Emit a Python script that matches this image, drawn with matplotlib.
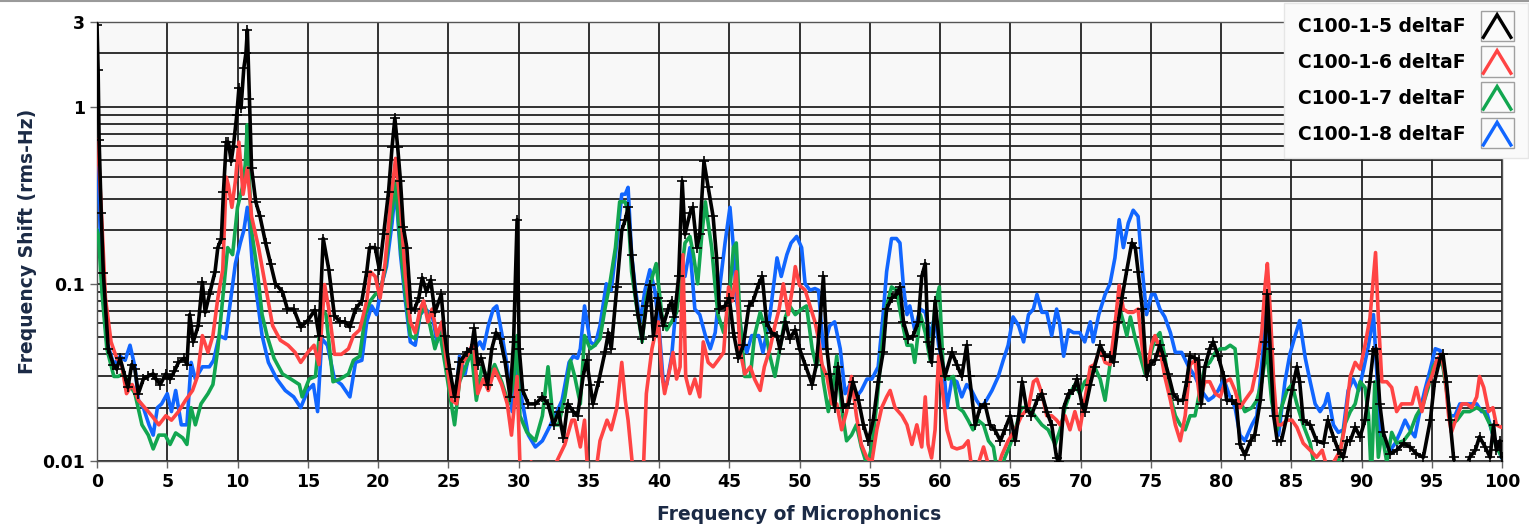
import numpy as np
import matplotlib
matplotlib.use('Agg')
import matplotlib.pyplot as plt
from matplotlib.lines import Line2D
from matplotlib.patches import Rectangle
from matplotlib.legend_handler import HandlerBase
from matplotlib.ticker import FixedLocator, NullFormatter

# --- data: (frequency, rms shift) per cavity
c5 = [(0.0, 2.9), (0.08, 1.6), (0.15, 0.65), (0.3, 0.25), (0.45, 0.115), (0.8, 0.043), (1.16, 0.035), (1.4, 0.033),
      (1.64, 0.038), (1.99, 0.030), (2.2, 0.026), (2.47, 0.035), (2.7, 0.033), (2.94, 0.024), (3.3, 0.029), (3.6, 0.03),
      (4.0, 0.031), (4.2, 0.029), (4.5, 0.027), (4.9, 0.031), (5.2, 0.029), (5.5, 0.032), (5.8, 0.036), (6.2, 0.038),
      (6.4, 0.035), (6.6, 0.067), (6.85, 0.047), (7.2, 0.058), (7.5, 0.102), (7.7, 0.069), (8.0, 0.087), (8.4, 0.117),
      (8.6, 0.16), (8.85, 0.18), (9.0, 0.33), (9.2, 0.63), (9.35, 0.63), (9.55, 0.49), (9.7, 0.59), (9.95, 0.9),
      (10.1, 1.27), (10.25, 0.98), (10.45, 1.65), (10.6, 2.0), (10.7, 2.7), (10.85, 1.1), (11.0, 0.45), (11.3, 0.29),
      (11.6, 0.24), (12.0, 0.17), (12.35, 0.13), (12.7, 0.10), (13.2, 0.09), (13.55, 0.072), (14.0, 0.072),
      (14.5, 0.057), (15.0, 0.062), (15.5, 0.071), (15.8, 0.051), (16.1, 0.18), (16.5, 0.12), (16.9, 0.066),
      (17.3, 0.061), (17.65, 0.061), (18.0, 0.057), (18.4, 0.072), (18.85, 0.080), (19.2, 0.117), (19.4, 0.16),
      (19.8, 0.16), (20.1, 0.12), (20.4, 0.19), (20.75, 0.33), (21.0, 0.59), (21.2, 0.86), (21.4, 0.59), (21.6, 0.38),
      (21.8, 0.21), (22.05, 0.16), (22.35, 0.072), (22.6, 0.072), (22.9, 0.083), (23.15, 0.108), (23.45, 0.09),
      (23.75, 0.105), (24.05, 0.069), (24.5, 0.087), (24.75, 0.051), (25.1, 0.033), (25.45, 0.023), (25.8, 0.036),
      (26.3, 0.041), (26.65, 0.043), (26.85, 0.056), (27.1, 0.035), (27.35, 0.038), (27.8, 0.027), (28.1, 0.043),
      (28.4, 0.053), (28.7, 0.049), (29.05, 0.036), (29.4, 0.023), (29.65, 0.047), (29.9, 0.23), (30.05, 0.043),
      (30.3, 0.025), (30.7, 0.021), (31.2, 0.021), (31.7, 0.023), (32.1, 0.021), (32.5, 0.016), (32.85, 0.019),
      (33.2, 0.0135), (33.5, 0.021), (33.9, 0.019), (34.2, 0.018), (34.6, 0.030), (34.85, 0.037), (35.1, 0.027),
      (35.3, 0.021), (35.7, 0.028), (36.15, 0.041), (36.4, 0.053), (36.6, 0.043), (37.0, 0.096), (37.35, 0.20),
      (37.6, 0.23), (37.8, 0.27), (38.05, 0.146), (38.3, 0.09), (38.5, 0.067), (38.8, 0.049), (39.1, 0.075),
      (39.35, 0.098), (39.6, 0.051), (39.95, 0.083), (40.3, 0.058), (40.65, 0.072), (40.9, 0.08), (41.1, 0.065),
      (41.4, 0.11), (41.65, 0.38), (41.85, 0.19), (42.2, 0.25), (42.4, 0.27), (42.7, 0.16), (42.9, 0.19), (43.2, 0.49),
      (43.5, 0.35), (43.85, 0.24), (44.1, 0.14), (44.3, 0.072), (44.7, 0.075), (45.0, 0.083), (45.3, 0.053),
      (45.65, 0.038), (46.0, 0.045), (46.4, 0.075), (46.7, 0.08), (47.1, 0.10), (47.35, 0.11), (47.65, 0.061),
      (48.0, 0.053), (48.4, 0.051), (48.6, 0.043), (49.0, 0.061), (49.3, 0.049), (49.7, 0.055), (50.0, 0.043),
      (50.4, 0.035), (50.9, 0.027), (51.2, 0.035), (51.45, 0.06), (51.7, 0.11), (51.95, 0.043), (52.15, 0.031),
      (52.5, 0.020), (52.75, 0.034), (53.1, 0.020), (53.5, 0.021), (53.8, 0.028), (54.2, 0.022), (54.55, 0.016),
      (54.9, 0.013), (55.25, 0.017), (55.6, 0.028), (55.95, 0.041), (56.2, 0.072), (56.55, 0.083), (56.9, 0.087),
      (57.15, 0.096), (57.4, 0.061), (57.75, 0.049), (58.1, 0.051), (58.45, 0.061), (58.7, 0.11), (58.95, 0.13),
      (59.15, 0.047), (59.4, 0.036), (59.65, 0.08), (60.0, 0.043), (60.35, 0.030), (60.85, 0.041), (61.2, 0.035),
      (61.55, 0.030), (61.9, 0.045), (62.1, 0.030), (62.5, 0.016), (62.85, 0.020), (63.2, 0.021), (63.55, 0.016),
      (63.9, 0.015), (64.3, 0.013), (64.6, 0.015), (65.0, 0.018), (65.35, 0.013), (65.6, 0.018), (65.85, 0.028),
      (66.15, 0.020), (66.5, 0.018), (66.9, 0.022), (67.25, 0.024), (67.6, 0.019), (67.95, 0.016), (68.3, 0.0104),
      (68.5, 0.0099), (68.8, 0.020), (69.15, 0.024), (69.5, 0.025), (69.75, 0.029), (70.1, 0.021), (70.3, 0.019),
      (70.7, 0.027), (71.0, 0.034), (71.4, 0.045), (71.75, 0.039), (72.1, 0.039), (72.35, 0.036), (72.7, 0.061),
      (72.95, 0.083), (73.3, 0.12), (73.65, 0.17), (73.9, 0.16), (74.1, 0.117), (74.4, 0.072), (74.7, 0.030),
      (74.95, 0.035), (75.3, 0.037), (75.65, 0.045), (75.9, 0.039), (76.25, 0.031), (76.6, 0.024), (76.95, 0.022),
      (77.3, 0.022), (77.55, 0.028), (77.8, 0.039), (78.15, 0.038), (78.4, 0.037), (78.6, 0.021), (78.85, 0.034),
      (79.2, 0.043), (79.45, 0.047), (79.8, 0.039), (80.2, 0.030), (80.4, 0.022), (80.75, 0.022), (81.1, 0.021),
      (81.35, 0.0124), (81.7, 0.0108), (82.1, 0.013), (82.4, 0.014), (82.8, 0.022), (83.15, 0.047), (83.3, 0.087),
      (83.5, 0.043), (83.75, 0.018), (84.0, 0.013), (84.3, 0.013), (84.7, 0.018), (85.05, 0.025), (85.4, 0.034),
      (85.6, 0.028), (85.85, 0.017), (86.35, 0.016), (86.8, 0.013), (87.3, 0.0126), (87.6, 0.017), (88.0, 0.0137),
      (88.35, 0.0115), (88.7, 0.0105), (88.95, 0.013), (89.2, 0.013), (89.55, 0.0155), (89.9, 0.0137), (90.25, 0.017),
      (90.6, 0.028), (90.85, 0.042), (91.05, 0.043), (91.3, 0.021), (91.55, 0.0145), (92.05, 0.011), (92.5, 0.0115),
      (93.0, 0.0126), (93.45, 0.012), (93.9, 0.011), (94.4, 0.0105), (94.9, 0.017), (95.2, 0.028), (95.6, 0.038),
      (95.8, 0.040), (96.05, 0.028), (96.3, 0.017), (96.55, 0.0105), (96.8, 0.008), (97.25, 0.008), (97.7, 0.0105),
      (98.1, 0.0115), (98.4, 0.0137), (98.8, 0.012), (99.15, 0.0105), (99.4, 0.016), (99.6, 0.0115), (99.85, 0.013),
      (100.0, 0.0105)]

c6 = [(0.0, 0.65), (0.1, 0.55), (0.35, 0.22), (0.6, 0.083), (1.0, 0.047), (1.4, 0.038), (1.75, 0.035), (2.1, 0.024),
      (2.5, 0.027), (2.95, 0.022), (3.4, 0.020), (3.9, 0.018), (4.4, 0.016), (4.9, 0.018), (5.3, 0.017), (5.8, 0.019),
      (6.3, 0.022), (6.8, 0.025), (7.15, 0.030), (7.5, 0.051), (7.9, 0.041), (8.25, 0.051), (8.6, 0.083), (8.95, 0.12),
      (9.2, 0.40), (9.35, 0.36), (9.6, 0.27), (9.85, 0.38), (10.1, 0.63), (10.4, 0.32), (10.7, 0.45), (11.0, 0.24),
      (11.5, 0.16), (12.0, 0.096), (12.5, 0.058), (13.05, 0.048), (13.6, 0.045), (14.1, 0.041), (14.5, 0.036),
      (15.0, 0.041), (15.45, 0.045), (15.8, 0.035), (16.2, 0.099), (16.5, 0.072), (16.9, 0.040), (17.4, 0.040),
      (17.9, 0.043), (18.25, 0.051), (18.7, 0.055), (19.2, 0.080), (19.45, 0.117), (19.8, 0.11), (20.15, 0.083),
      (20.5, 0.13), (20.9, 0.29), (21.25, 0.51), (21.6, 0.27), (21.95, 0.11), (22.3, 0.061), (22.65, 0.053),
      (23.0, 0.072), (23.25, 0.08), (23.55, 0.061), (23.85, 0.072), (24.2, 0.051), (24.55, 0.061), (24.9, 0.035),
      (25.25, 0.022), (25.6, 0.021), (25.95, 0.035), (26.4, 0.040), (26.8, 0.047), (27.1, 0.024), (27.5, 0.029),
      (27.85, 0.025), (28.3, 0.033), (28.8, 0.027), (29.2, 0.021), (29.5, 0.014), (29.9, 0.030), (30.1, 0.0098),
      (30.6, 0.008), (30.9, 0.0099), (31.2, 0.008), (31.6, 0.008), (32.1, 0.0098), (32.6, 0.0095), (33.3, 0.0124),
      (33.8, 0.017), (34.0, 0.017), (34.4, 0.012), (34.7, 0.017), (34.95, 0.008), (35.45, 0.008), (35.8, 0.013),
      (36.3, 0.017), (36.6, 0.015), (37.0, 0.020), (37.35, 0.036), (37.6, 0.022), (37.8, 0.017), (38.2, 0.008),
      (38.65, 0.008), (38.9, 0.0095), (39.1, 0.024), (39.5, 0.043), (39.7, 0.051), (39.95, 0.061), (40.2, 0.031),
      (40.4, 0.024), (40.8, 0.034), (41.0, 0.041), (41.25, 0.029), (41.5, 0.034), (41.7, 0.146), (41.9, 0.030),
      (42.2, 0.024), (42.55, 0.029), (42.9, 0.023), (43.15, 0.047), (43.5, 0.036), (43.85, 0.034), (44.2, 0.037),
      (44.6, 0.041), (44.95, 0.096), (45.2, 0.08), (45.5, 0.117), (45.75, 0.043), (46.1, 0.031), (46.5, 0.034),
      (46.8, 0.029), (47.2, 0.025), (47.5, 0.034), (47.9, 0.043), (48.25, 0.058), (48.55, 0.072), (48.85, 0.10),
      (49.2, 0.067), (49.55, 0.10), (49.7, 0.125), (50.0, 0.098), (50.4, 0.092), (50.75, 0.075), (51.1, 0.061),
      (51.35, 0.049), (51.6, 0.035), (51.95, 0.030), (52.3, 0.021), (52.65, 0.021), (53.0, 0.015), (53.35, 0.019),
      (53.7, 0.030), (54.05, 0.018), (54.4, 0.0124), (54.8, 0.0104), (55.15, 0.0099), (55.5, 0.015), (55.85, 0.020),
      (56.2, 0.023), (56.45, 0.025), (56.8, 0.020), (57.3, 0.018), (57.65, 0.016), (58.0, 0.0124), (58.35, 0.016),
      (58.7, 0.012), (58.95, 0.023), (59.15, 0.0124), (59.4, 0.0104), (59.65, 0.015), (59.9, 0.039), (60.1, 0.028),
      (60.5, 0.015), (60.85, 0.012), (61.2, 0.0117), (61.65, 0.012), (62.0, 0.013), (62.35, 0.008), (62.7, 0.0095),
      (63.1, 0.012), (63.45, 0.0095), (63.9, 0.008), (64.4, 0.0108), (64.85, 0.013), (65.35, 0.015), (65.8, 0.018),
      (66.3, 0.020), (66.65, 0.028), (66.9, 0.029), (67.25, 0.024), (67.6, 0.018), (67.95, 0.018), (68.3, 0.017),
      (68.55, 0.016), (68.9, 0.018), (69.25, 0.015), (69.6, 0.019), (69.95, 0.015), (70.3, 0.022), (70.7, 0.034),
      (71.0, 0.035), (71.4, 0.043), (71.75, 0.036), (72.1, 0.035), (72.45, 0.058), (72.75, 0.098), (73.05, 0.072),
      (73.4, 0.069), (73.75, 0.069), (74.1, 0.072), (74.4, 0.043), (74.7, 0.031), (75.05, 0.045), (75.3, 0.051),
      (75.65, 0.043), (76.0, 0.030), (76.4, 0.022), (76.75, 0.016), (77.1, 0.013), (77.45, 0.018), (77.8, 0.035),
      (78.15, 0.037), (78.5, 0.022), (78.85, 0.028), (79.2, 0.028), (79.6, 0.024), (79.95, 0.023), (80.3, 0.028),
      (80.65, 0.029), (81.0, 0.025), (81.35, 0.020), (81.7, 0.022), (82.2, 0.025), (82.55, 0.034), (82.9, 0.053),
      (83.15, 0.10), (83.3, 0.13), (83.5, 0.072), (83.75, 0.028), (84.0, 0.016), (84.3, 0.016), (84.7, 0.017),
      (85.05, 0.017), (85.4, 0.0155), (85.85, 0.0126), (86.35, 0.0115), (86.8, 0.0105), (87.2, 0.0115), (87.5, 0.0095),
      (88.0, 0.0098), (88.5, 0.0115), (88.8, 0.0155), (89.2, 0.030), (89.55, 0.036), (89.9, 0.033), (90.25, 0.045),
      (90.6, 0.064), (90.85, 0.11), (91.0, 0.15), (91.2, 0.064), (91.45, 0.028), (91.8, 0.028), (92.15, 0.026),
      (92.5, 0.019), (92.85, 0.021), (93.2, 0.021), (93.6, 0.021), (93.9, 0.026), (94.3, 0.019), (94.65, 0.026),
      (95.0, 0.030), (95.35, 0.037), (95.7, 0.040), (95.95, 0.030), (96.2, 0.018), (96.4, 0.0145), (96.8, 0.018),
      (97.15, 0.021), (97.5, 0.021), (97.85, 0.020), (98.2, 0.023), (98.4, 0.030), (98.7, 0.026), (99.05, 0.019),
      (99.35, 0.020), (99.6, 0.016), (99.95, 0.0155), (100.0, 0.0155)]

c7 = [(0.0, 0.2), (0.1, 0.19), (0.35, 0.09), (0.7, 0.043), (1.2, 0.030), (1.5, 0.030), (1.9, 0.031), (2.2, 0.028),
      (2.7, 0.024), (3.2, 0.016), (3.65, 0.014), (4.0, 0.0117), (4.4, 0.014), (4.85, 0.014), (5.2, 0.0124),
      (5.6, 0.0144), (6.1, 0.0135), (6.4, 0.0124), (6.7, 0.020), (7.0, 0.016), (7.4, 0.021), (7.9, 0.024), (8.25, 0.027),
      (8.6, 0.043), (8.95, 0.083), (9.3, 0.16), (9.65, 0.146), (10.0, 0.27), (10.35, 0.35), (10.55, 0.47), (10.7, 0.79),
      (10.85, 0.38), (11.0, 0.20), (11.4, 0.12), (11.75, 0.067), (12.1, 0.051), (12.6, 0.038), (13.2, 0.031),
      (13.8, 0.029), (14.4, 0.027), (14.6, 0.023), (15.1, 0.029), (15.55, 0.030), (16.0, 0.072), (16.3, 0.067),
      (16.8, 0.028), (17.3, 0.029), (17.9, 0.031), (18.25, 0.037), (18.7, 0.039), (19.1, 0.067), (19.45, 0.08),
      (19.8, 0.087), (20.15, 0.09), (20.5, 0.12), (20.9, 0.22), (21.25, 0.38), (21.6, 0.16), (21.95, 0.087),
      (22.3, 0.051), (22.65, 0.049), (23.0, 0.067), (23.35, 0.075), (23.7, 0.058), (24.05, 0.043), (24.4, 0.053),
      (24.75, 0.036), (25.1, 0.024), (25.45, 0.016), (25.8, 0.028), (26.3, 0.035), (26.65, 0.041), (27.0, 0.022),
      (27.4, 0.034), (27.85, 0.029), (28.3, 0.035), (28.8, 0.028), (29.3, 0.021), (29.65, 0.028), (29.9, 0.051),
      (30.1, 0.018), (30.6, 0.0145), (31.2, 0.013), (31.7, 0.018), (32.1, 0.034), (32.5, 0.016), (32.85, 0.016),
      (33.3, 0.023), (33.7, 0.037), (34.0, 0.030), (34.4, 0.021), (34.7, 0.051), (35.1, 0.043), (35.45, 0.045),
      (35.8, 0.049), (36.15, 0.072), (36.5, 0.10), (36.9, 0.16), (37.2, 0.29), (37.6, 0.29), (37.8, 0.25),
      (38.05, 0.117), (38.4, 0.075), (38.8, 0.047), (39.1, 0.083), (39.5, 0.108), (39.8, 0.13), (40.2, 0.067),
      (40.55, 0.055), (40.9, 0.061), (41.25, 0.069), (41.5, 0.10), (41.85, 0.17), (42.2, 0.185), (42.45, 0.146),
      (42.75, 0.10), (43.05, 0.19), (43.3, 0.29), (43.5, 0.22), (43.75, 0.16), (44.0, 0.096), (44.2, 0.067),
      (44.6, 0.053), (44.95, 0.075), (45.3, 0.16), (45.5, 0.17), (45.75, 0.067), (46.1, 0.030), (46.5, 0.030),
      (46.8, 0.051), (47.2, 0.069), (47.5, 0.058), (47.9, 0.039), (48.25, 0.030), (48.6, 0.043), (49.0, 0.065),
      (49.3, 0.075), (49.7, 0.067), (50.15, 0.072), (50.5, 0.075), (50.9, 0.043), (51.2, 0.034), (51.45, 0.043),
      (51.7, 0.028), (52.05, 0.019), (52.4, 0.027), (52.65, 0.039), (53.0, 0.020), (53.35, 0.013), (53.7, 0.014),
      (54.05, 0.016), (54.4, 0.012), (54.8, 0.0095), (55.15, 0.012), (55.5, 0.021), (55.85, 0.043), (56.2, 0.075),
      (56.55, 0.096), (56.9, 0.092), (57.3, 0.061), (57.65, 0.045), (58.0, 0.045), (58.2, 0.036), (58.6, 0.067),
      (58.95, 0.053), (59.3, 0.037), (59.65, 0.075), (59.95, 0.096), (60.25, 0.030), (60.6, 0.029), (60.95, 0.030),
      (61.3, 0.020), (61.65, 0.019), (62.0, 0.017), (62.35, 0.015), (62.7, 0.017), (63.1, 0.016), (63.45, 0.013),
      (63.8, 0.012), (64.15, 0.008), (64.6, 0.0104), (65.0, 0.0124), (65.35, 0.015), (65.8, 0.020), (66.3, 0.020),
      (66.75, 0.018), (67.25, 0.016), (67.7, 0.015), (68.2, 0.0124), (68.55, 0.015), (68.9, 0.020), (69.25, 0.024),
      (69.6, 0.027), (69.95, 0.024), (70.3, 0.028), (70.7, 0.030), (71.0, 0.034), (71.4, 0.029), (71.75, 0.022),
      (72.1, 0.035), (72.45, 0.051), (72.8, 0.072), (73.05, 0.061), (73.3, 0.051), (73.55, 0.065), (73.9, 0.049),
      (74.25, 0.039), (74.6, 0.031), (74.95, 0.039), (75.3, 0.049), (75.65, 0.053), (76.0, 0.039), (76.4, 0.023),
      (76.75, 0.018), (77.1, 0.016), (77.45, 0.015), (77.8, 0.018), (78.15, 0.018), (78.5, 0.025), (78.85, 0.034),
      (79.2, 0.036), (79.6, 0.041), (79.95, 0.043), (80.3, 0.043), (80.65, 0.045), (81.0, 0.043), (81.35, 0.022),
      (81.7, 0.019), (82.2, 0.020), (82.55, 0.022), (82.9, 0.028), (83.25, 0.043), (83.6, 0.022), (84.0, 0.015),
      (84.3, 0.020), (84.7, 0.025), (85.05, 0.027), (85.4, 0.021), (85.85, 0.016), (86.35, 0.0126), (86.8, 0.008),
      (87.3, 0.008), (87.75, 0.008), (88.35, 0.0098), (88.8, 0.016), (89.2, 0.019), (89.55, 0.021), (89.9, 0.028),
      (90.25, 0.026), (90.5, 0.018), (90.7, 0.008), (90.95, 0.028), (91.2, 0.0105), (91.45, 0.0145), (91.8, 0.0098),
      (92.15, 0.0145), (92.5, 0.0126), (93.0, 0.013), (93.45, 0.0145), (93.9, 0.018), (94.4, 0.021), (94.75, 0.026),
      (95.1, 0.034), (95.45, 0.038), (95.8, 0.034), (96.05, 0.025), (96.4, 0.016), (96.8, 0.017), (97.25, 0.019),
      (97.7, 0.019), (98.2, 0.020), (98.7, 0.019), (99.15, 0.016), (99.6, 0.012), (100.0, 0.0105)]

c8 = [(0.0, 0.45), (0.1, 0.4), (0.35, 0.10), (0.7, 0.047), (1.2, 0.035), (1.65, 0.039), (2.0, 0.037), (2.35, 0.045),
      (2.7, 0.034), (2.95, 0.022), (3.3, 0.020), (3.7, 0.016), (4.0, 0.014), (4.3, 0.020), (4.6, 0.021), (5.0, 0.024),
      (5.3, 0.019), (5.6, 0.025), (6.0, 0.016), (6.4, 0.016), (6.7, 0.036), (7.0, 0.029), (7.5, 0.034), (8.0, 0.034),
      (8.3, 0.037), (8.7, 0.051), (9.15, 0.049), (9.5, 0.080), (9.85, 0.13), (10.2, 0.17), (10.45, 0.20), (10.7, 0.27),
      (10.85, 0.22), (11.05, 0.13), (11.4, 0.083), (11.75, 0.051), (12.2, 0.036), (12.8, 0.029), (13.4, 0.025),
      (14.0, 0.023), (14.5, 0.020), (15.0, 0.025), (15.4, 0.027), (15.7, 0.019), (16.0, 0.049), (16.4, 0.045),
      (16.9, 0.029), (17.4, 0.027), (18.0, 0.023), (18.4, 0.036), (18.85, 0.037), (19.2, 0.061), (19.55, 0.075),
      (19.9, 0.067), (20.25, 0.098), (20.6, 0.125), (21.0, 0.22), (21.25, 0.35), (21.6, 0.146), (21.95, 0.08),
      (22.3, 0.047), (22.65, 0.045), (23.0, 0.067), (23.35, 0.072), (23.85, 0.067), (24.2, 0.047), (24.55, 0.058),
      (24.9, 0.036), (25.25, 0.024), (25.6, 0.025), (25.8, 0.039), (26.2, 0.031), (26.55, 0.043), (26.9, 0.043),
      (27.25, 0.047), (27.5, 0.043), (27.85, 0.058), (28.2, 0.072), (28.45, 0.075), (28.8, 0.053), (29.2, 0.034),
      (29.55, 0.019), (29.9, 0.035), (30.25, 0.022), (30.7, 0.014), (31.2, 0.012), (31.7, 0.013), (32.1, 0.015),
      (32.6, 0.018), (33.1, 0.022), (33.6, 0.036), (33.9, 0.039), (34.2, 0.038), (34.4, 0.043), (34.7, 0.075),
      (35.1, 0.047), (35.45, 0.045), (35.8, 0.058), (36.25, 0.10), (36.6, 0.092), (37.0, 0.17), (37.35, 0.32),
      (37.6, 0.32), (37.8, 0.35), (38.05, 0.146), (38.3, 0.096), (38.65, 0.061), (39.0, 0.092), (39.35, 0.12),
      (39.7, 0.092), (40.05, 0.051), (40.3, 0.028), (40.55, 0.027), (40.9, 0.039), (41.25, 0.08), (41.6, 0.11),
      (41.85, 0.11), (42.2, 0.16), (42.55, 0.072), (42.9, 0.067), (43.3, 0.051), (43.65, 0.043), (44.0, 0.053),
      (44.35, 0.10), (44.7, 0.17), (45.05, 0.27), (45.3, 0.16), (45.5, 0.083), (45.9, 0.051), (46.25, 0.041),
      (46.6, 0.051), (47.1, 0.051), (47.4, 0.041), (47.9, 0.067), (48.4, 0.14), (48.7, 0.11), (49.1, 0.146),
      (49.4, 0.17), (49.8, 0.185), (50.15, 0.16), (50.4, 0.10), (50.75, 0.092), (51.1, 0.094), (51.35, 0.092),
      (51.7, 0.043), (52.15, 0.058), (52.5, 0.061), (52.9, 0.043), (53.25, 0.024), (53.7, 0.028), (54.05, 0.023),
      (54.4, 0.025), (54.8, 0.029), (55.15, 0.029), (55.6, 0.034), (55.95, 0.067), (56.2, 0.117), (56.55, 0.18),
      (56.9, 0.18), (57.15, 0.17), (57.4, 0.096), (57.65, 0.067), (57.85, 0.075), (58.2, 0.055), (58.6, 0.072),
      (58.95, 0.069), (59.3, 0.051), (59.65, 0.067), (59.9, 0.045), (60.25, 0.034), (60.5, 0.020), (60.85, 0.029),
      (61.2, 0.028), (61.55, 0.023), (61.9, 0.027), (62.25, 0.025), (62.6, 0.022), (62.95, 0.020), (63.3, 0.022),
      (63.7, 0.025), (64.15, 0.030), (64.5, 0.037), (64.85, 0.045), (65.2, 0.065), (65.6, 0.058), (65.95, 0.047),
      (66.3, 0.067), (66.65, 0.072), (66.9, 0.087), (67.25, 0.069), (67.6, 0.069), (67.95, 0.051), (68.3, 0.072),
      (68.5, 0.061), (68.8, 0.039), (69.15, 0.055), (69.5, 0.053), (69.95, 0.053), (70.3, 0.047), (70.7, 0.061),
      (70.9, 0.047), (71.3, 0.067), (71.75, 0.087), (72.1, 0.10), (72.45, 0.14), (72.75, 0.23), (73.05, 0.16),
      (73.4, 0.22), (73.75, 0.26), (74.1, 0.24), (74.4, 0.12), (74.7, 0.067), (75.05, 0.087), (75.3, 0.087),
      (75.65, 0.072), (76.0, 0.065), (76.4, 0.053), (76.75, 0.041), (77.2, 0.041), (77.7, 0.034), (78.15, 0.030),
      (78.6, 0.025), (79.1, 0.022), (79.45, 0.023), (79.8, 0.025), (80.2, 0.029), (80.55, 0.024), (81.0, 0.020),
      (81.35, 0.014), (81.7, 0.013), (82.2, 0.016), (82.55, 0.018), (82.9, 0.035), (83.2, 0.067), (83.4, 0.036),
      (83.75, 0.018), (84.1, 0.014), (84.55, 0.028), (84.9, 0.040), (85.25, 0.05), (85.6, 0.062), (86.0, 0.038),
      (86.35, 0.028), (86.7, 0.021), (87.05, 0.019), (87.4, 0.021), (87.6, 0.024), (88.0, 0.016), (88.35, 0.0145),
      (88.7, 0.015), (89.05, 0.025), (89.4, 0.029), (89.8, 0.025), (90.15, 0.033), (90.5, 0.045), (90.85, 0.067),
      (91.1, 0.030), (91.35, 0.0137), (91.7, 0.0126), (92.05, 0.0115), (92.4, 0.0126), (92.75, 0.0145), (93.1, 0.017),
      (93.45, 0.015), (93.8, 0.0137), (94.15, 0.019), (94.5, 0.025), (94.9, 0.033), (95.25, 0.043), (95.6, 0.042),
      (95.95, 0.030), (96.3, 0.018), (96.65, 0.018), (97.0, 0.021), (97.35, 0.021), (97.85, 0.021), (98.2, 0.021),
      (98.55, 0.019), (98.9, 0.019), (99.3, 0.0145), (99.6, 0.0126), (99.95, 0.0105)]

labels = ['C100-1-5 deltaF', 'C100-1-6 deltaF', 'C100-1-7 deltaF', 'C100-1-8 deltaF']
colors = ['black', '#ff4444', '#12a650', '#1166ff']
xticks = np.arange(0, 101, 5)
yticks = [0.01, 0.1, 1, 3]
ytick_labels = ['0.01', '0.1', '1', '3']
yminor = [0.02, 0.03, 0.04, 0.05, 0.06, 0.07, 0.08, 0.09,
          0.2, 0.3, 0.4, 0.5, 0.6, 0.7, 0.8, 0.9, 2]

plt.rcParams['font.family'] = 'DejaVu Sans'
plt.rcParams['font.weight'] = 'bold'


class CaretHandler(HandlerBase):
    # small framed "^" icon like the LabVIEW plot legend
    def create_artists(self, legend, orig_handle, xdescent, ydescent,
                       width, height, fontsize, trans):
        x0, y0 = -xdescent, -ydescent
        box = Rectangle((x0, y0 - 0.4*height), width, 1.8*height, fill=False,
                        ec='#a0a0a0', lw=1.0, transform=trans)
        xs = [x0 + 0.08*width, x0 + 0.5*width, x0 + 0.92*width]
        ys = [y0 - 0.2*height, y0 + 1.15*height, y0 - 0.2*height]
        ln = Line2D(xs, ys, color=orig_handle.get_color(), lw=2.4,
                    transform=trans, solid_joinstyle='miter')
        return [box, ln]


fig = plt.figure(figsize=(15.29, 5.26), dpi=100)
ax = fig.add_axes([97/1529., 65/526., 1405/1529., 439/526.])
ax.set_facecolor('#f8f8f8')

series = [c5, c6, c7, c8]
handles = [None]*4
for i in [3, 2, 1, 0]:
    f, v = np.array(series[i]).T
    if i == 0:
        l, = ax.plot(f, v, '-', color=colors[i], lw=2.6, marker='+', ms=7, mew=1.2, zorder=5)
    else:
        l, = ax.plot(f, v, '-', color=colors[i], lw=2.6, zorder=3 + (3-i)*0.1)
    handles[i] = l

ax.set_yscale('log')
ax.set_xlim(0, 100)
ax.set_ylim(0.01, 3)
ax.set_xticks(xticks)
ax.set_xticklabels([str(t) for t in xticks])
ax.yaxis.set_major_locator(FixedLocator(yticks))
ax.set_yticklabels(ytick_labels)
ax.yaxis.set_minor_locator(FixedLocator(yminor))
ax.yaxis.set_minor_formatter(NullFormatter())
ax.tick_params(axis='both', which='major', labelsize=12.5, length=5, width=1, color='#666', direction='out')
ax.tick_params(axis='y', which='minor', length=0)
ax.grid(True, which='major', axis='x', color='#222', lw=1.3)
ax.grid(True, which='both', axis='y', color='#222', lw=1.3)
ax.set_axisbelow(True)
for s in ax.spines.values():
    s.set_color('#555')
    s.set_linewidth(1)

ax.set_xlabel('Frequency of Microphonics', fontsize=13.5, fontweight='bold', color='#1b2a45', labelpad=10)
ax.set_ylabel('Frequency Shift (rms-Hz)', fontsize=13.5, fontweight='bold', color='#1b2a45', labelpad=4)

leg = fig.legend(handles, labels, loc='upper left', bbox_to_anchor=(1284/1529., 1 - 3/526.),
                 bbox_transform=fig.transFigure, prop={'size': 13.5, 'weight': 'bold'},
                 handler_map={Line2D: CaretHandler()}, markerfirst=False,
                 handlelength=1.75, handleheight=1.0, handletextpad=0.8, labelspacing=0.9,
                 borderpad=0.75, borderaxespad=0, fancybox=False, framealpha=1)
leg.get_frame().set_facecolor('#fafafa')
leg.get_frame().set_edgecolor('#e6e6e6')

fig.add_artist(Line2D([0, 1], [0.999, 0.999], transform=fig.transFigure, color='#9a9a9a', lw=1.5))

fig.savefig('out.png', dpi=100)
